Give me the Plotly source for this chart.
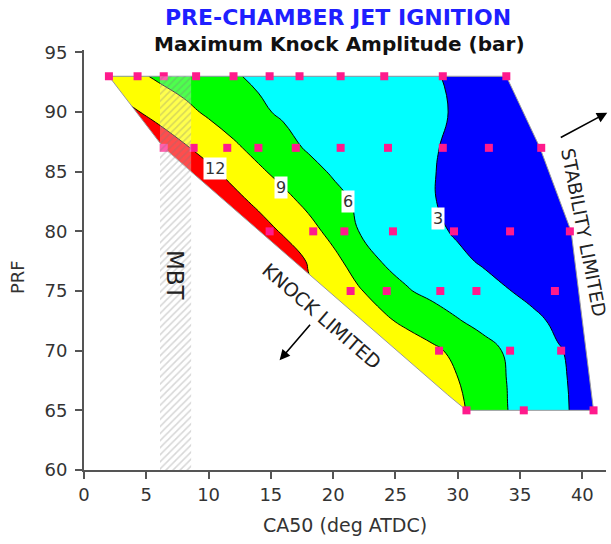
import plotly.graph_objects as go

# ---- knock-amplitude field (bar): one row per PRF level, columns at CA50 ----
GRID_X = [0, 2, 4, 6, 8, 10, 12, 14, 16, 18, 20, 22, 24, 26, 28, 30, 32, 34, 36, 38, 40, 42]
GRID_Y = [65, 67.5, 70, 72.5, 75, 77.5, 80, 82.5, 85, 87, 90, 93]
Z_65 = [34.4, 32.8, 31.2, 29.6, 28.0, 26.4, 24.8, 23.2, 21.6, 20.0, 18.4, 16.8, 15.2, 13.6, 12.02, 9.6, 7.71, 6.02, 4.67, 3.33, 2.63, 2.13]
Z_67 = [34.08, 32.41, 30.74, 29.08, 27.41, 25.74, 24.08, 22.41, 20.74, 19.08, 17.41, 15.74, 14.08, 12.41, 10.75, 9.08, 7.50, 5.93, 4.60, 3.27, 2.60, 2.10]
Z_70 = [26.69, 25.47, 24.24, 23.02, 21.80, 20.57, 19.35, 18.12, 16.90, 15.67, 14.45, 13.22, 12.02, 10.78, 9.55, 8.28, 6.98, 5.68, 4.40, 3.13, 2.55, 2.05]
Z_72 = [32.81, 30.88, 28.94, 27.0, 25.07, 23.13, 21.20, 19.26, 17.32, 15.39, 13.45, 11.52, 9.58, 8.26, 7.21, 6.16, 5.21, 4.29, 3.37, 2.70, 2.20, 1.70]
Z_75 = [26.23, 24.69, 23.15, 21.61, 20.07, 18.54, 17.0, 15.46, 13.92, 12.38, 10.85, 9.31, 7.74, 6.16, 5.33, 4.58, 3.83, 3.08, 2.55, 2.05, 1.55, 1.05]
Z_77 = [29.8, 27.8, 25.8, 23.8, 21.8, 19.8, 17.8, 15.8, 13.8, 11.8, 9.8, 7.71, 5.84, 5.04, 4.24, 3.44, 2.78, 2.28, 1.78, 1.28, 0.78, 0.28]
Z_80 = [25.0, 23.33, 21.67, 20.0, 18.33, 16.67, 15.0, 13.33, 11.67, 10.0, 8.14, 6.02, 5.14, 4.29, 3.43, 2.75, 2.25, 1.75, 1.25, 0.75, 0.25, -0.25]
Z_82 = [22.15, 20.61, 19.07, 17.54, 16.0, 14.46, 12.92, 11.38, 9.85, 8.33, 6.83, 5.62, 4.77, 3.93, 3.08, 2.55, 2.05, 1.55, 1.05, 0.55, 0.05, -0.45]
Z_85 = [20.52, 18.94, 17.37, 15.79, 14.21, 12.63, 11.05, 9.47, 8.09, 6.78, 5.73, 5.07, 4.40, 3.73, 3.07, 2.55, 2.05, 1.55, 1.05, 0.55, 0.05, -0.45]
Z_87 = [18.07, 16.64, 15.21, 13.79, 12.36, 10.93, 9.50, 8.11, 6.75, 5.76, 5.24, 4.71, 4.18, 3.66, 3.13, 2.63, 2.13, 1.63, 1.13, 0.63, 0.13, -0.37]
Z_90 = [14.87, 13.60, 12.32, 11.04, 9.77, 8.56, 7.44, 6.33, 5.71, 5.31, 4.90, 4.49, 4.08, 3.67, 3.27, 2.83, 2.33, 1.83, 1.33, 0.83, 0.33, -0.17]
Z_93 = [12.59, 11.12, 9.66, 8.56, 7.76, 6.96, 6.16, 5.71, 5.34, 4.98, 4.61, 4.24, 3.88, 3.51, 3.15, 2.70, 2.20, 1.70, 1.20, 0.70, 0.20, -0.30]
LEVELS = [3, 6, 9, 12]
BAND_COLORS = ["#0000ff", "#00ffff", "#00ff00", "#ffff00", "#ff0000"]

# ---- operating envelope (knock limit lower left, stability limit right) ----
ENV_X = [2.0, 33.9, 36.6, 39.1, 40.9, 30.7, 29.2, 6.4, 2.0]
ENV_Y = [93, 93, 87, 80, 65, 65, 66.3, 87, 93]

# ---- test points ----
PT_X = [2.0, 4.3, 6.4, 9.0, 12.0, 14.9, 17.3, 20.6, 24.1, 28.8, 33.9,
        6.4, 8.8, 11.5, 14.0, 17.0, 20.6, 24.4, 28.8, 32.5, 36.7,
        14.9, 18.4, 20.9, 24.8, 29.7, 34.2, 39.0,
        21.4, 24.3, 28.6, 31.5, 37.8,
        28.5, 34.2, 38.3,
        30.7, 35.3, 40.9]
PT_Y = [93] * 11 + [87] * 10 + [80] * 7 + [75] * 5 + [70] * 3 + [65] * 3

# ---- MBT band ----
MBT_X = [6.1, 8.6]
MBT_Y = [60, 93]

# ---- contour labels ----
LABEL_TEXT = ["12", "9", "6", "3"]
LABEL_X = [10.5, 15.85, 21.2, 28.45]
LABEL_Y = [85.25, 83.7, 82.5, 81.1]

X_TICKS = [0, 5, 10, 15, 20, 25, 30, 35, 40]
Y_TICKS = [60, 65, 70, 75, 80, 85, 90, 95]

FONT = "DejaVu Sans"

fig = go.Figure()

n = len(LEVELS)
colorscale = [[i / n, c] for i, c in enumerate(BAND_COLORS)]
fig.add_trace(go.Contour(
    x=GRID_X, y=GRID_Y,
    z=[Z_65, Z_67, Z_70, Z_72, Z_75, Z_77, Z_80, Z_82, Z_85, Z_87, Z_90, Z_93],
    contours=dict(start=LEVELS[0], end=LEVELS[-1], size=LEVELS[1] - LEVELS[0], coloring="fill"),
    colorscale=colorscale, showscale=False,
    line=dict(color="black", width=1, smoothing=1.3),
    hoverinfo="skip",
))

# white masks outside the envelope
left_x = [-1, 2.0, 2.0, 6.4, 29.2, 30.7, 30.7, -1, -1]
left_y = [93.5, 93.5, 93, 87, 66.3, 65, 64.5, 64.5, 93.5]
right_x = [33.9, 43, 43, 40.9, 40.9, 39.1, 36.6, 33.9, 33.9]
right_y = [93.5, 93.5, 64.5, 64.5, 65, 80, 87, 93, 93.5]
for mx, my in ((left_x, left_y), (right_x, right_y)):
    fig.add_trace(go.Scatter(x=mx, y=my, mode="lines", fill="toself",
                             fillcolor="white", line=dict(width=0, color="white"),
                             hoverinfo="skip", showlegend=False))

fig.add_trace(go.Scatter(x=ENV_X, y=ENV_Y, mode="lines",
                         line=dict(color="#9a9a9a", width=1),
                         hoverinfo="skip", showlegend=False))

fig.add_trace(go.Scatter(x=PT_X, y=PT_Y, mode="markers",
                         marker=dict(symbol="square", size=8, color="#ff1a8c"),
                         hoverinfo="skip", showlegend=False))

fig.add_trace(go.Scatter(
    x=[MBT_X[0], MBT_X[1], MBT_X[1], MBT_X[0], MBT_X[0]],
    y=[MBT_Y[0], MBT_Y[0], MBT_Y[1], MBT_Y[1], MBT_Y[0]],
    mode="lines", fill="toself", line=dict(width=0),
    fillcolor="rgba(255,255,255,0.3)",
    fillpattern=dict(shape="/", fgcolor="rgba(120,120,120,0.6)",
                     bgcolor="rgba(255,255,255,0.3)", size=5, solidity=0.3),
    hoverinfo="skip", showlegend=False))

ann = []
for t, lx, ly in zip(LABEL_TEXT, LABEL_X, LABEL_Y):
    ann.append(dict(x=lx, y=ly, xref="x", yref="y", text=t, showarrow=False,
                    font=dict(family=FONT, size=16, color="#333333"),
                    bgcolor="white", borderpad=1))

ann.append(dict(x=7.35, y=76.3, xref="x", yref="y", text="MBT", showarrow=False,
                textangle=90, font=dict(family=FONT, size=23, color="#222222")))
ann.append(dict(x=19.1, y=72.9, xref="x", yref="y", text="KNOCK LIMITED", showarrow=False,
                textangle=41, font=dict(family=FONT, size=19, color="#222222")))
ann.append(dict(x=40.1, y=79.9, xref="x", yref="y", text="STABILITY LIMITED", showarrow=False,
                textangle=79, font=dict(family=FONT, size=18.5, color="#222222")))

# direction arrows
ann.append(dict(x=15.7, y=69.2, ax=18.25, ay=72.3, xref="x", yref="y", axref="x", ayref="y",
                text="", showarrow=True, arrowhead=2, arrowsize=1.3, arrowwidth=1.6,
                arrowcolor="black"))
ann.append(dict(x=42.0, y=89.95, ax=38.15, ay=87.8, xref="x", yref="y", axref="x", ayref="y",
                text="", showarrow=True, arrowhead=2, arrowsize=1.3, arrowwidth=1.6,
                arrowcolor="black"))

# titles
ann.append(dict(x=0.487, y=1.077, xref="paper", yref="paper", yanchor="middle",
                text="<b>PRE-CHAMBER JET IGNITION</b>",
                showarrow=False, font=dict(family=FONT, size=22, color="#1f1fff")))
ann.append(dict(x=0.49, y=1.015, xref="paper", yref="paper", yanchor="middle",
                text="<b>Maximum Knock Amplitude (bar)</b>",
                showarrow=False, font=dict(family=FONT, size=20, color="#111111")))
ann.append(dict(x=0.5, y=-0.131, xref="paper", yref="paper", yanchor="middle",
                text="CA50 (deg ATDC)",
                showarrow=False, font=dict(family=FONT, size=19, color="#333333")))
ann.append(dict(x=-0.126, y=0.46, xref="paper", yref="paper", xanchor="center", yanchor="middle",
                text="PRF", textangle=-90,
                showarrow=False, font=dict(family=FONT, size=18, color="#333333")))

axis_common = dict(showgrid=False, zeroline=False, showline=True, linecolor="#555555",
                   linewidth=2, ticks="outside", ticklen=7, tickwidth=2, tickcolor="#555555",
                   tickfont=dict(family=FONT, size=18, color="#333333"))

fig.update_layout(
    width=611, height=544,
    margin=dict(l=84, r=5, t=50, b=74),
    paper_bgcolor="white", plot_bgcolor="white",
    showlegend=False,
    xaxis=dict(range=[0, 41.9], tickvals=X_TICKS, **axis_common),
    yaxis=dict(range=[60, 95.2], tickvals=Y_TICKS, ticklabelstandoff=4, **axis_common),
    annotations=ann,
)

fig.write_html("out.html")
